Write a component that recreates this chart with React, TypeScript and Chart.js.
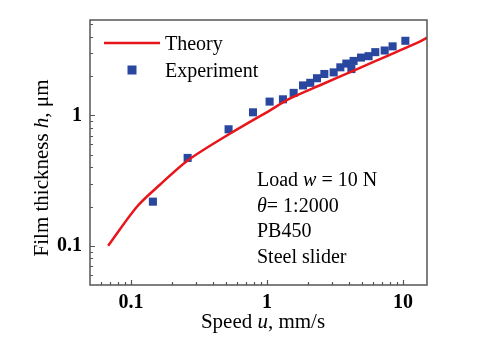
import React, { useEffect, useRef } from "react";
import { Chart, registerables } from "chart.js";

Chart.register(...registerables);

// Theory curve (speed in mm/s, film thickness in µm)
const theorySpeed = [0.068, 0.111, 0.164, 0.26, 0.54, 1.06, 1.48, 2.5, 4.6, 8, 13.4, 15];
const theoryThickness = [0.1, 0.2, 0.295, 0.45, 0.73, 1.1, 1.35, 1.72, 2.27, 2.92, 3.7, 3.95];

// Experimental points
const expSpeed = [0.145, 0.261, 0.522, 0.789, 1.045, 1.31, 1.57, 1.84, 2.08, 2.33, 2.64, 3.09, 3.46, 3.83, 4.17, 4.33, 4.91, 5.58, 6.25, 7.33, 8.38, 10.4];
const expThickness = [0.218, 0.472, 0.783, 1.057, 1.277, 1.33, 1.49, 1.7, 1.78, 1.93, 2.08, 2.14, 2.34, 2.5, 2.27, 2.62, 2.78, 2.85, 3.06, 3.15, 3.39, 3.74];

// Axis ticks
const xTickValues = [0.06, 0.07, 0.08, 0.09, 0.1, 0.2, 0.3, 0.4, 0.5, 0.6, 0.7, 0.8, 0.9, 1, 2, 3, 4, 5, 6, 7, 8, 9, 10];
const xTickLabels = ["0.1", "1", "10"];
const yTickValues = [0.06, 0.07, 0.08, 0.09, 0.1, 0.2, 0.3, 0.4, 0.5, 0.6, 0.7, 0.8, 0.9, 1, 2, 3, 4, 5];
const yTickLabels = ["0.1", "1"];

const legendLabels = ["Theory", "Experiment"];
const noteLines = [
  [{ t: "Load ", i: false }, { t: "w", i: true }, { t: " = 10 N", i: false }],
  [{ t: "θ", i: true }, { t: "= 1:2000", i: false }],
  [{ t: "PB450", i: false }],
  [{ t: "Steel slider", i: false }],
];
const xTitle = [{ t: "Speed ", i: false }, { t: "u", i: true }, { t: ", mm/s", i: false }];
const yTitle = [{ t: "Film thickness ", i: false }, { t: "h", i: true }, { t: ", μm", i: false }];

const RED = "#e8161b";
const BLUE = "#2a47a0";
const FRAME = "#555555";
const SERIF = "'Liberation Serif', 'DejaVu Serif', serif";

type Part = { t: string; i: boolean };

function drawParts(ctx: CanvasRenderingContext2D, parts: Part[], x: number, y: number, size: number, align: "left" | "center") {
  const fonts = parts.map((p) => `${p.i ? "italic " : ""}${size}px ${SERIF}`);
  const widths = parts.map((p, k) => {
    ctx.font = fonts[k];
    return ctx.measureText(p.t).width;
  });
  const total = widths.reduce((a, b) => a + b, 0);
  let cx = align === "center" ? x - total / 2 : x;
  ctx.textAlign = "left";
  ctx.textBaseline = "alphabetic";
  parts.forEach((p, k) => {
    ctx.font = fonts[k];
    ctx.fillText(p.t, cx, y);
    cx += widths[k];
  });
}

const decorPlugin = {
  id: "decor",
  afterDraw(chart: any) {
    const ctx: CanvasRenderingContext2D = chart.ctx;
    const { left, right, top, bottom } = chart.chartArea;
    const xs = chart.scales.x;
    const ys = chart.scales.y;
    ctx.save();
    // frame
    ctx.strokeStyle = FRAME;
    ctx.lineWidth = 1.5;
    ctx.strokeRect(left, top, right - left, bottom - top);
    // inward ticks
    ctx.lineWidth = 1.2;
    ctx.beginPath();
    xTickValues.forEach((v) => {
      const px = Math.round(xs.getPixelForValue(v)) + 0.5;
      const len = xTickLabels.includes(String(v)) ? 5 : 3;
      ctx.moveTo(px, bottom);
      ctx.lineTo(px, bottom - len);
    });
    yTickValues.forEach((v) => {
      const py = Math.round(ys.getPixelForValue(v)) + 0.5;
      const len = yTickLabels.includes(String(v)) ? 5 : 3;
      ctx.moveTo(left, py);
      ctx.lineTo(left + len, py);
    });
    ctx.stroke();

    // legend
    const theory = chart.data.datasets[0];
    const exp = chart.data.datasets[1];
    ctx.strokeStyle = theory.borderColor;
    ctx.lineWidth = 2.5;
    ctx.beginPath();
    ctx.moveTo(104, 43);
    ctx.lineTo(160, 43);
    ctx.stroke();
    ctx.fillStyle = exp.backgroundColor;
    ctx.fillRect(127.5, 65.5, 9, 9);
    ctx.fillStyle = "#000";
    drawParts(ctx, [{ t: legendLabels[0], i: false }], 165, 50, 20, "left");
    drawParts(ctx, [{ t: legendLabels[1], i: false }], 165, 77, 20, "left");

    // notes
    noteLines.forEach((line, k) => {
      drawParts(ctx, line as Part[], 257, 186 + k * 25.6, 20, "left");
    });

    // axis titles
    drawParts(ctx, xTitle, 263, 328, 21, "center");
    ctx.save();
    ctx.translate(48, 168);
    ctx.rotate(-Math.PI / 2);
    drawParts(ctx, yTitle, 0, 0, 21, "center");
    ctx.restore();
    ctx.restore();
  },
};

export default function App() {
  const ref = useRef<HTMLCanvasElement | null>(null);

  useEffect(() => {
    document.body.style.margin = "0";
    const canvas = ref.current;
    if (!canvas) return;
    const chart = new Chart(canvas, {
      type: "scatter",
      data: {
        datasets: [
          {
            label: legendLabels[0],
            data: theorySpeed.map((x, i) => ({ x, y: theoryThickness[i] })),
            showLine: true,
            borderColor: RED,
            backgroundColor: RED,
            borderWidth: 2.5,
            pointRadius: 0,
            tension: 0.3,
          },
          {
            label: legendLabels[1],
            data: expSpeed.map((x, i) => ({ x, y: expThickness[i] })),
            showLine: false,
            pointStyle: "rect",
            pointRadius: 5.7,
            backgroundColor: BLUE,
            borderColor: BLUE,
            borderWidth: 0,
          },
        ],
      },
      options: {
        animation: false,
        responsive: false,
        maintainAspectRatio: false,
        layout: { padding: { top: 15, right: 53, left: 0, bottom: 0 } },
        plugins: { legend: { display: false }, tooltip: { enabled: false } },
        scales: {
          x: {
            type: "logarithmic",
            min: 0.05,
            max: 15,
            grid: { display: false, drawTicks: false },
            border: { display: false },
            afterBuildTicks: (s: any) => {
              s.ticks = xTickValues.map((value) => ({ value }));
            },
            afterFit: (s: any) => {
              s.height = 75;
            },
            ticks: {
              autoSkip: false,
              maxRotation: 0,
              padding: 6,
              color: "#000",
              font: { family: SERIF, size: 20, weight: "bold" },
              callback: (v: any) => (xTickLabels.includes(String(v)) ? String(v) : ""),
            },
          },
          y: {
            type: "logarithmic",
            min: 0.05,
            max: 5.4,
            grid: { display: false, drawTicks: false },
            border: { display: false },
            afterBuildTicks: (s: any) => {
              s.ticks = yTickValues.map((value) => ({ value }));
            },
            afterFit: (s: any) => {
              s.width = 90;
            },
            ticks: {
              autoSkip: false,
              padding: 8,
              color: "#000",
              font: { family: SERIF, size: 20, weight: "bold" },
              callback: (v: any) => (yTickLabels.includes(String(v)) ? String(v) : ""),
            },
          },
        },
      },
      plugins: [decorPlugin],
    } as any);
    return () => chart.destroy();
  }, []);

  return (
    <div style={{ position: "fixed", left: 0, top: 0, width: 480, height: 360, background: "#fff" }}>
      <canvas ref={ref} width={480} height={360} style={{ width: 480, height: 360 }} />
    </div>
  );
}
